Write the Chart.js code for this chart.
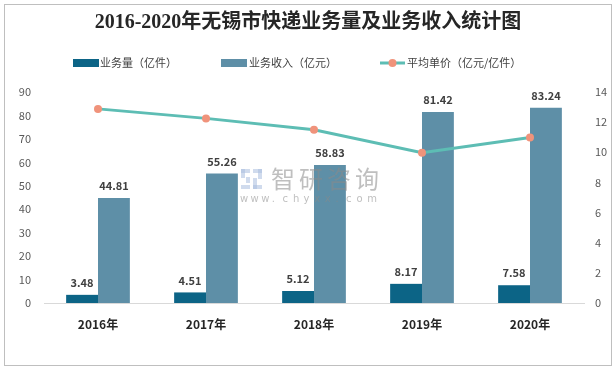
<!DOCTYPE html>
<html>
<head>
<meta charset="utf-8">
<script src="https://cdn.jsdelivr.net/npm/chart.js@4.4.1/dist/chart.umd.min.js"></script>
<style>
  html, body { margin: 0; padding: 0; background: #fff; }
  #wrap { position: relative; width: 616px; height: 371px; }
</style>
</head>
<body>
<div id="wrap"><canvas id="chart" width="616" height="371"></canvas></div>
<script>
const years = ['2016年', '2017年', '2018年', '2019年', '2020年'];
const volume = [3.48, 4.51, 5.12, 8.17, 7.58];          // 业务量（亿件）
const revenue = [44.81, 55.26, 58.83, 81.42, 83.24];    // 业务收入（亿元）
const unitPrice = [12.88, 12.25, 11.49, 9.97, 10.98];   // 平均单价（亿元/亿件）

const title = '2016-2020年无锡市快递业务量及业务收入统计图';
const cjk = '"Microsoft YaHei", "Noto Sans CJK SC", sans-serif';

const darkBlue = '#0c6486';
const steelBlue = '#5e8fa7';
const teal = '#5dbdb4';
const salmon = '#f0937b';

// frame, title, legend, watermark and value labels
const decorPlugin = {
    id: 'decor',
    beforeDraw(chart) {
        const ctx = chart.ctx;
        ctx.save();
        ctx.fillStyle = '#fff';
        ctx.fillRect(0, 0, chart.width, chart.height);
        ctx.strokeStyle = '#bfbfbf';
        ctx.lineWidth = 1;
        ctx.strokeRect(4.5, 4.5, 607, 361);
        ctx.restore();
    },
    afterDatasetsDraw(chart) {
        const ctx = chart.ctx;
        ctx.save();

        // watermark, semi transparent over the bars
        ctx.globalAlpha = 0.55;
        ctx.fillStyle = '#a9bedf';
        ctx.fillRect(241, 169, 9, 4);
        ctx.fillRect(241, 169, 4, 9);
        ctx.fillRect(246, 177, 4, 6);
        ctx.fillRect(241, 185, 9, 4);
        ctx.fillRect(253, 169, 9, 4);
        ctx.fillRect(258, 169, 4, 10);
        ctx.fillRect(253, 178, 4, 11);
        ctx.fillRect(253, 185, 9, 4);
        ctx.fillStyle = '#8a8a8a';
        ctx.font = '24px ' + cjk;
        ctx.textAlign = 'left';
        ctx.textBaseline = 'middle';
        let wx = 271;
        for (const ch of '智研咨询') { ctx.fillText(ch, wx, 179); wx += 28; }
        ctx.font = '10px "DejaVu Sans", sans-serif';
        let sx = 240;
        for (const ch of 'www.chyxx.com') { ctx.fillText(ch, sx, 199); sx += 10.6; }
        ctx.globalAlpha = 1;

        ctx.font = 'bold 11px ' + cjk;
        ctx.fillStyle = '#404040';
        ctx.textAlign = 'center';
        [0, 1].forEach(di => {
            const meta = chart.getDatasetMeta(di);
            meta.data.forEach((bar, i) => {
                const v = chart.data.datasets[di].data[i];
                ctx.fillText(v.toFixed(2), bar.x, bar.y - 12);
            });
        });

        // title
        ctx.fillStyle = '#262626';
        ctx.font = 'bold 20px "Liberation Serif", "Noto Sans CJK SC", serif';
        ctx.fillText(title, 308, 23);

        // legend
        ctx.font = '11px ' + cjk;
        ctx.textAlign = 'left';
        ctx.fillStyle = darkBlue;
        ctx.fillRect(73, 59, 26, 8);
        ctx.fillStyle = steelBlue;
        ctx.fillRect(221, 59, 26, 8);
        ctx.strokeStyle = teal;
        ctx.lineWidth = 3;
        ctx.beginPath();
        ctx.moveTo(380, 63);
        ctx.lineTo(405, 63);
        ctx.stroke();
        ctx.fillStyle = salmon;
        ctx.beginPath();
        ctx.arc(392.5, 63, 4, 0, Math.PI * 2);
        ctx.fill();
        ctx.fillStyle = '#404040';
        ctx.fillText('业务量（亿件）', 100, 63);
        ctx.fillText('业务收入（亿元）', 249, 63);
        ctx.fillText('平均单价（亿元/亿件）', 407, 63);
        ctx.restore();
    }
};

new Chart(document.getElementById('chart'), {
    type: 'bar',
    data: {
        labels: years,
        datasets: [{
            label: '业务量（亿件）',
            data: volume,
            backgroundColor: darkBlue,
            yAxisID: 'y',
            order: 2,
            categoryPercentage: 0.59,
            barPercentage: 1.0
        }, {
            label: '业务收入（亿元）',
            data: revenue,
            backgroundColor: steelBlue,
            yAxisID: 'y',
            order: 2,
            categoryPercentage: 0.59,
            barPercentage: 1.0
        }, {
            type: 'line',
            label: '平均单价（亿元/亿件）',
            data: unitPrice,
            borderColor: teal,
            borderWidth: 3,
            pointRadius: 4,
            pointBackgroundColor: salmon,
            pointBorderWidth: 0,
            pointHoverRadius: 4,
            tension: 0,
            yAxisID: 'y1',
            order: 1
        }]
    },
    options: {
        responsive: false,
        animation: false,
        layout: { padding: { top: 92, bottom: 8, left: 0, right: 0 } },
        plugins: {
            legend: { display: false },
            title: { display: false },
            tooltip: { enabled: false }
        },
        scales: {
            x: {
                grid: { display: false, drawTicks: false },
                border: { display: true, color: '#d9d9d9', width: 1 },
                ticks: { color: '#262626', font: { size: 12, weight: 'bold', family: cjk }, padding: 14 },
                afterFit(scale) { scale.height = 60; }
            },
            y: {
                position: 'left',
                min: 0, max: 90,
                grid: { display: false, drawTicks: false },
                border: { display: false },
                ticks: { stepSize: 10, color: '#595959', font: { size: 11, family: cjk }, padding: 13 },
                afterFit(scale) { scale.width = 44; }
            },
            y1: {
                position: 'right',
                min: 0, max: 14,
                grid: { display: false, drawTicks: false },
                border: { display: false },
                ticks: { stepSize: 2, color: '#595959', font: { size: 11, family: cjk }, padding: 11 },
                afterFit(scale) { scale.width = 32; }
            }
        }
    },
    plugins: [decorPlugin]
});
</script>
</body>
</html>
